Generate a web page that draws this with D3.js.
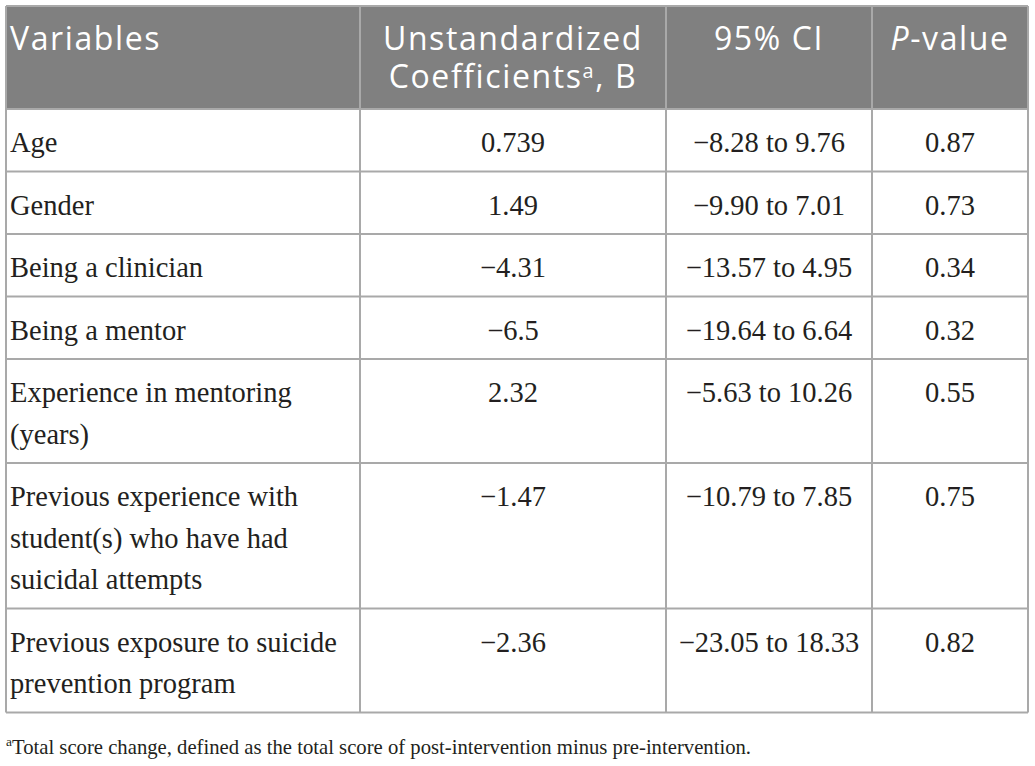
<!DOCTYPE html>
<html>
<head>
<meta charset="utf-8">
<script src="https://cdn.jsdelivr.net/npm/d3@7"></script>
<style>
body{margin:0;background:#fff;}
</style>
</head>
<body>
<div id="TablePart"></div>
<script>
// table content ---------------------------------------------------------------
var Headers = [["Variables"], ["Unstandardized", "Coefficients|a|, B"], ["95% CI"], ["*P*-value"]];
var Variables = [
	"Age",
	"Gender",
	"Being a clinician",
	"Being a mentor",
	"Experience in mentoring\n(years)",
	"Previous experience with\nstudent(s) who have had\nsuicidal attempts",
	"Previous exposure to suicide\nprevention program"
];
var Coefficients = ["0.739", "1.49", "\u22124.31", "\u22126.5", "2.32", "\u22121.47", "\u22122.36"];
var ConfidenceIntervals = ["\u22128.28 to 9.76", "\u22129.90 to 7.01", "\u221213.57 to 4.95", "\u221219.64 to 6.64", "\u22125.63 to 10.26", "\u221210.79 to 7.85", "\u221223.05 to 18.33"];
var PValues = ["0.87", "0.73", "0.34", "0.32", "0.55", "0.75", "0.82"];
var Footnote = "Total score change, defined as the total score of post-intervention minus pre-intervention.";

//layout -------------------------------------------------------------------------
var Width = 1035, Height = 766;
var ColumnEdges = [6, 360, 666, 872, 1028];
var TableTop = 6, HeaderHeight = 103;
var LineHeight = 41.5, RowPadding = 21;
var HeaderLineHeight = 38;
var BorderColor = "#a9a9a9";
var TextColor = "#231f20";
var SerifFont = "'Liberation Serif', 'Times New Roman', serif";
var SansFont = "'Open Sans', Lato, sans-serif";
var BodySize = "28.5px";

var svg = d3.select("#TablePart")
	.append("svg")
	.attr("width", Width)
	.attr("height", Height);

var ColumnX = d3.scaleOrdinal().domain([0, 1, 2, 3, 4]).range(ColumnEdges);
function ColumnCenter(i){ return (ColumnX(i) + ColumnX(i + 1)) / 2; }

var Rows = Variables.map(function(v, i){
	return {lines: v.split("\n"), cells: [Coefficients[i], ConfidenceIntervals[i], PValues[i]]};
});
var RowHeights = Rows.map(function(r){ return r.lines.length * LineHeight + RowPadding; });
var RowTops = [TableTop + HeaderHeight].concat(Array.from(d3.cumsum(RowHeights), function(h){ return TableTop + HeaderHeight + h; }));
var TableBottom = RowTops[RowTops.length - 1];

//header background
svg.append("rect")
	.attr("x", ColumnX(0))
	.attr("y", TableTop)
	.attr("width", ColumnX(4) - ColumnX(0))
	.attr("height", HeaderHeight)
	.attr("fill", "#808080");

//header text, "|x|" marks a superscript and "*x*" italic; all lines of a cell go in one text
function AddRichLine(textNode, str, x, lineIndex)
{
	var parts = str.split(/(\|[^|]*\||\*[^*]*\*)/).filter(function(p){ return p.length; });
	var raised = false;
	parts.forEach(function(p, j){
		var span = textNode.append("tspan");
		if(j == 0)
			{
				span.attr("x", x).attr("dy", lineIndex == 0 ? 0 : HeaderLineHeight);
			}
		if(raised)
			{
				span.attr("dy", 10);
				raised = false;
			}
		if(p[0] == "|")
			{
				span.attr("dy", -10).attr("font-size", "0.62em").text(p.slice(1, -1));
				raised = true;
			}
		else if(p[0] == "*")
			{
				span.attr("font-style", "italic").text(p.slice(1, -1));
			}
		else
			{
				span.text(p);
			}
	});
}

Headers.forEach(function(lines, c){
	var x = c == 0 ? ColumnX(0) + 4 : ColumnCenter(c);
	var t = svg.append("text")
		.attr("x", x)
		.attr("y", TableTop + 44)
		.attr("text-anchor", c == 0 ? "start" : "middle")
		.attr("font-family", SansFont)
		.attr("font-size", "32px")
		.attr("letter-spacing", "1.6px")
		.attr("fill", "#ffffff");
	lines.forEach(function(line, k){
		AddRichLine(t, line, x, k);
	});
});

//body rows
var RowGroups = svg.selectAll("g.row")
	.data(Rows)
	.enter()
	.append("g")
	.attr("class", "row")
	.attr("transform", function(d, i){ return "translate(0," + RowTops[i] + ")"; });

RowGroups.append("text")
	.attr("x", ColumnX(0) + 4)
	.attr("y", 43)
	.attr("font-family", SerifFont)
	.attr("font-size", BodySize)
	.attr("fill", TextColor)
	.selectAll("tspan")
	.data(function(d){ return d.lines; })
	.enter()
	.append("tspan")
	.attr("x", ColumnX(0) + 4)
	.attr("dy", function(d, i){ return i == 0 ? 0 : LineHeight; })
	.text(function(d){ return d; });

RowGroups.selectAll("text.cell")
	.data(function(d){ return d.cells; })
	.enter()
	.append("text")
	.attr("class", "cell")
	.attr("x", function(d, i){ return ColumnCenter(i + 1); })
	.attr("y", 43)
	.attr("text-anchor", "middle")
	.attr("font-family", SerifFont)
	.attr("font-size", BodySize)
	.attr("fill", TextColor)
	.text(function(d){ return d; });

//grid lines
svg.selectAll("line.hline")
	.data([TableTop].concat(RowTops))
	.enter()
	.append("line")
	.attr("class", "hline")
	.attr("x1", ColumnX(0))
	.attr("x2", ColumnX(4))
	.attr("y1", function(d){ return d; })
	.attr("y2", function(d){ return d; })
	.attr("stroke", BorderColor)
	.attr("stroke-width", 2);

svg.selectAll("line.vline")
	.data(ColumnEdges)
	.enter()
	.append("line")
	.attr("class", "vline")
	.attr("x1", function(d){ return d; })
	.attr("x2", function(d){ return d; })
	.attr("y1", TableTop)
	.attr("y2", TableBottom)
	.attr("stroke", BorderColor)
	.attr("stroke-width", 2);

//footnote
var Foot = svg.append("text")
	.attr("x", 6)
	.attr("y", TableBottom + 41)
	.attr("font-family", SerifFont)
	.attr("font-size", "20.7px")
	.attr("fill", TextColor);
Foot.append("tspan").attr("dy", -8).attr("font-size", "0.65em").text("a");
Foot.append("tspan").attr("dy", 8).text(Footnote);
</script>
</body>
</html>
